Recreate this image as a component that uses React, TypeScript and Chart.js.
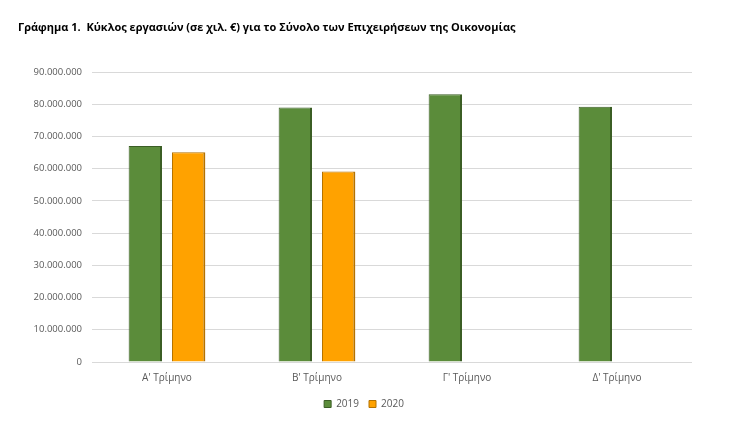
import React, { useEffect, useRef } from "react";
import { Chart, registerables } from "chart.js";

Chart.register(...registerables);

const TITLE = "Γράφημα 1.  Κύκλος εργασιών (σε χιλ. €) για το Σύνολο των Επιχειρήσεων της Οικονομίας";
const categories = ["Α' Τρίμηνο", "Β' Τρίμηνο", "Γ' Τρίμηνο", "Δ' Τρίμηνο"];
const seriesLabels = ["2019", "2020"];
const values2019 = [67000000, 79000000, 83100000, 79200000];
const values2020: (number | null)[] = [65100000, 59100000, null, null];
const yMax = 90000000;
const yStep = 10000000;

const FONT = "'Open Sans', 'Noto Sans', sans-serif";
const GRAY = "#595959";

function fmt(v: number): string {
  return String(Math.round(v)).replace(/\B(?=(\d{3})+(?!\d))/g, ".");
}

const titlePlugin = {
  id: "customTitle",
  afterLayout(chart: any) {
    const lg = chart.legend;
    if (lg) {
      lg.left += 9;
      lg.right += 9;
    }
  },
  afterDraw(chart: any) {
    const ctx = chart.ctx;
    ctx.save();
    ctx.fillStyle = "#000000";
    ctx.font = `bold 11px ${FONT}`;
    ctx.textBaseline = "alphabetic";
    ctx.textAlign = "left";
    ctx.fillText(TITLE, 18, 31);
    ctx.restore();
  },
};

export default function App() {
  const ref = useRef<HTMLCanvasElement | null>(null);

  useEffect(() => {
    document.body.style.margin = "0";
    const canvas = ref.current;
    if (!canvas) return;
    const chart = new Chart(canvas, {
      type: "bar",
      data: {
        labels: categories,
        datasets: [
          {
            label: seriesLabels[0],
            data: values2019,
            backgroundColor: "#5B8C3A",
            borderColor: "#3B5E25",
            borderWidth: { top: 1, left: 1, right: 2, bottom: 0 },
            categoryPercentage: 0.578,
            barPercentage: 0.77,
          },
          {
            label: seriesLabels[1],
            data: values2020,
            backgroundColor: "#FFA200",
            borderColor: "#B47200",
            borderWidth: { top: 1, left: 1, right: 2, bottom: 0 },
            categoryPercentage: 0.578,
            barPercentage: 0.77,
          },
        ],
      },
      options: {
        animation: false,
        responsive: true,
        maintainAspectRatio: false,
        layout: { padding: { top: 72, left: 18, right: 53, bottom: 17 } },
        plugins: {
          title: { display: false },
          tooltip: { enabled: false },
          legend: {
            position: "bottom",
            labels: {
              boxWidth: 7,
              boxHeight: 7,
              padding: 10,
              color: GRAY,
              font: { family: FONT, size: 10 },
            },
          },
        },
        scales: {
          x: {
            grid: { display: false, drawTicks: false },
            border: { display: false },
            ticks: { color: GRAY, font: { family: FONT, size: 10 }, padding: 10 },
            afterFit(scale: any) {
              scale.height = 27;
            },
          },
          y: {
            min: 0,
            max: yMax,
            grid: { color: "#D9D9D9", lineWidth: 1, drawTicks: false },
            border: { display: false },
            ticks: {
              stepSize: yStep,
              color: GRAY,
              font: { family: FONT, size: 9.5 },
              padding: 10,
              callback: (v: any) => fmt(Number(v)),
            },
            afterFit(scale: any) {
              scale.width = 74;
            },
          },
        },
      },
      plugins: [titlePlugin],
    });
    return () => chart.destroy();
  }, []);

  return (
    <div style={{ position: "fixed", left: 0, top: 0, width: 745, height: 436, background: "#ffffff" }}>
      <canvas ref={ref} />
    </div>
  );
}
